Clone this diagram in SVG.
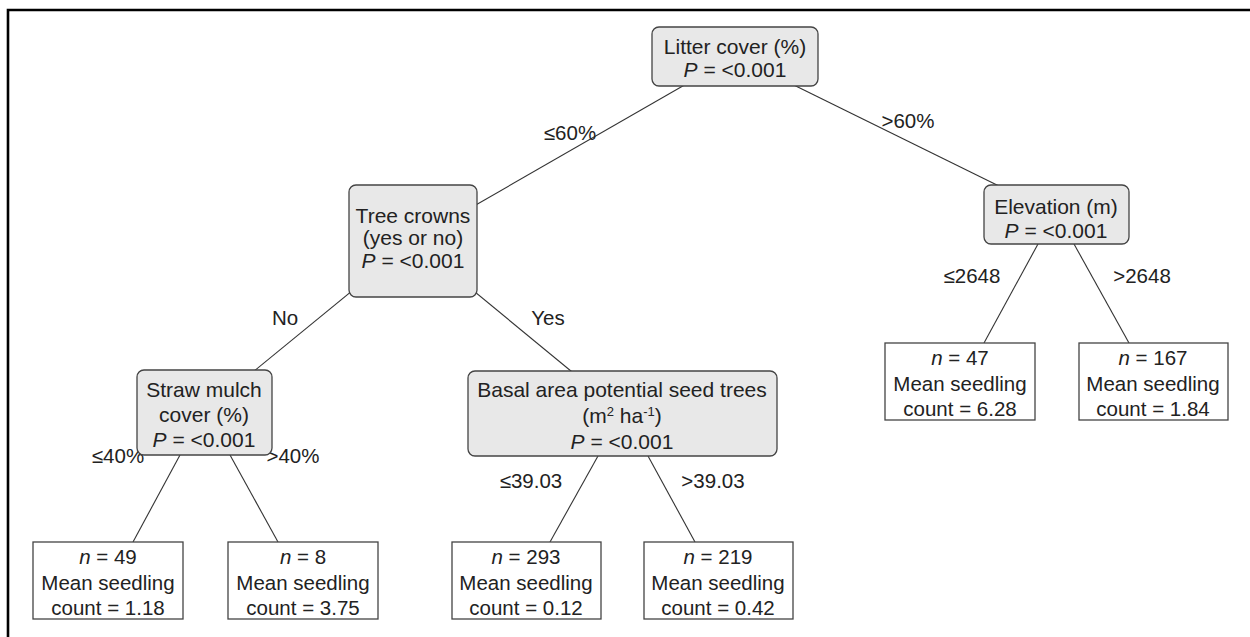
<svg xmlns="http://www.w3.org/2000/svg" width="1250" height="637" viewBox="0 0 1250 637">
<style>
.dec{fill:#e8e8e8;stroke:#444;stroke-width:1.3}
.leaf{fill:#fff;stroke:#444;stroke-width:1.3}
.t{font-family:"Liberation Sans",Arial,sans-serif;font-size:21px;fill:#222;text-anchor:middle}
.l{font-family:"Liberation Sans",Arial,sans-serif;font-size:20.5px;fill:#222;text-anchor:middle}
.e{stroke:#333;stroke-width:1.1;fill:none}
</style>
<rect width="1250" height="637" fill="#fff"/>
<path d="M8,637 V10 H1250" fill="none" stroke="#000" stroke-width="2.6"/>
<g id="connectors">
<line class="e" x1="735" y1="56" x2="413" y2="241"/>
<line class="e" x1="735" y1="56" x2="1056" y2="214"/>
<line class="e" x1="413" y1="241" x2="204" y2="412"/>
<line class="e" x1="413" y1="241" x2="622" y2="413"/>
<line class="e" x1="1038" y1="244" x2="984" y2="343"/>
<line class="e" x1="1074" y1="244" x2="1129" y2="343"/>
<line class="e" x1="180" y1="455" x2="133" y2="542"/>
<line class="e" x1="230" y1="455" x2="278" y2="542"/>
<line class="e" x1="598" y1="456" x2="550" y2="542"/>
<line class="e" x1="648" y1="456" x2="695" y2="542"/>
<text class="l" x="570" y="140">≤60%</text>
<text class="l" x="908" y="128">&gt;60%</text>
<text class="l" x="285" y="325">No</text>
<text class="l" x="548" y="325">Yes</text>
<text class="l" x="118" y="463">≤40%</text>
<text class="l" x="293" y="463">&gt;40%</text>
<text class="l" x="531" y="488">≤39.03</text>
<text class="l" x="713" y="488">&gt;39.03</text>
<text class="l" x="972" y="283">≤2648</text>
<text class="l" x="1142" y="283">&gt;2648</text>
</g>
<g id="root">
<rect class="dec" x="652" y="27" width="166" height="59" rx="7"/>
<text class="t" x="735" y="54">Litter cover (%)</text>
<text class="t" x="735" y="77"><tspan font-style="italic">P</tspan> = &lt;0.001</text>
</g>
<g id="tree-crowns">
<rect class="dec" x="349" y="185" width="128" height="112" rx="7"/>
<text class="t" x="413" y="223">Tree crowns</text>
<text class="t" x="413" y="245">(yes or no)</text>
<text class="t" x="413" y="268"><tspan font-style="italic">P</tspan> = &lt;0.001</text>
</g>
<g id="elevation">
<rect class="dec" x="984" y="185" width="145" height="59" rx="7"/>
<text class="t" x="1056" y="214">Elevation (m)</text>
<text class="t" x="1056" y="238"><tspan font-style="italic">P</tspan> = &lt;0.001</text>
</g>
<g id="straw-mulch">
<rect class="dec" x="137" y="370" width="135" height="85" rx="7"/>
<text class="t" x="204" y="397">Straw mulch</text>
<text class="t" x="204" y="422">cover (%)</text>
<text class="t" x="204" y="447"><tspan font-style="italic">P</tspan> = &lt;0.001</text>
</g>
<g id="basal-area">
<rect class="dec" x="468" y="371" width="309" height="85" rx="7"/>
<text class="t" x="622" y="397">Basal area potential seed trees</text>
<text class="t" x="622" y="423">(m<tspan font-size="13" dy="-7">2</tspan><tspan dy="7"> ha</tspan><tspan font-size="13" dy="-7">-1</tspan><tspan dy="7">)</tspan></text>
<text class="t" x="622" y="449"><tspan font-style="italic">P</tspan> = &lt;0.001</text>
</g>
<g id="leaf-n47">
<rect class="leaf" x="885" y="343" width="150" height="77"/>
<text class="l" x="960" y="365"><tspan font-style="italic">n</tspan> = 47</text>
<text class="l" x="960" y="391">Mean seedling</text>
<text class="l" x="960" y="416">count = 6.28</text>
</g>
<g id="leaf-n167">
<rect class="leaf" x="1079" y="343" width="149" height="77"/>
<text class="l" x="1153" y="365"><tspan font-style="italic">n</tspan> = 167</text>
<text class="l" x="1153" y="391">Mean seedling</text>
<text class="l" x="1153" y="416">count = 1.84</text>
</g>
<g id="leaf-n49">
<rect class="leaf" x="33" y="542" width="150" height="77"/>
<text class="l" x="108" y="564"><tspan font-style="italic">n</tspan> = 49</text>
<text class="l" x="108" y="590">Mean seedling</text>
<text class="l" x="108" y="615">count = 1.18</text>
</g>
<g id="leaf-n8">
<rect class="leaf" x="228" y="542" width="150" height="77"/>
<text class="l" x="303" y="564"><tspan font-style="italic">n</tspan> = 8</text>
<text class="l" x="303" y="590">Mean seedling</text>
<text class="l" x="303" y="615">count = 3.75</text>
</g>
<g id="leaf-n293">
<rect class="leaf" x="452" y="542" width="149" height="77"/>
<text class="l" x="526" y="564"><tspan font-style="italic">n</tspan> = 293</text>
<text class="l" x="526" y="590">Mean seedling</text>
<text class="l" x="526" y="615">count = 0.12</text>
</g>
<g id="leaf-n219">
<rect class="leaf" x="644" y="542" width="149" height="77"/>
<text class="l" x="718" y="564"><tspan font-style="italic">n</tspan> = 219</text>
<text class="l" x="718" y="590">Mean seedling</text>
<text class="l" x="718" y="615">count = 0.42</text>
</g>
</svg>
